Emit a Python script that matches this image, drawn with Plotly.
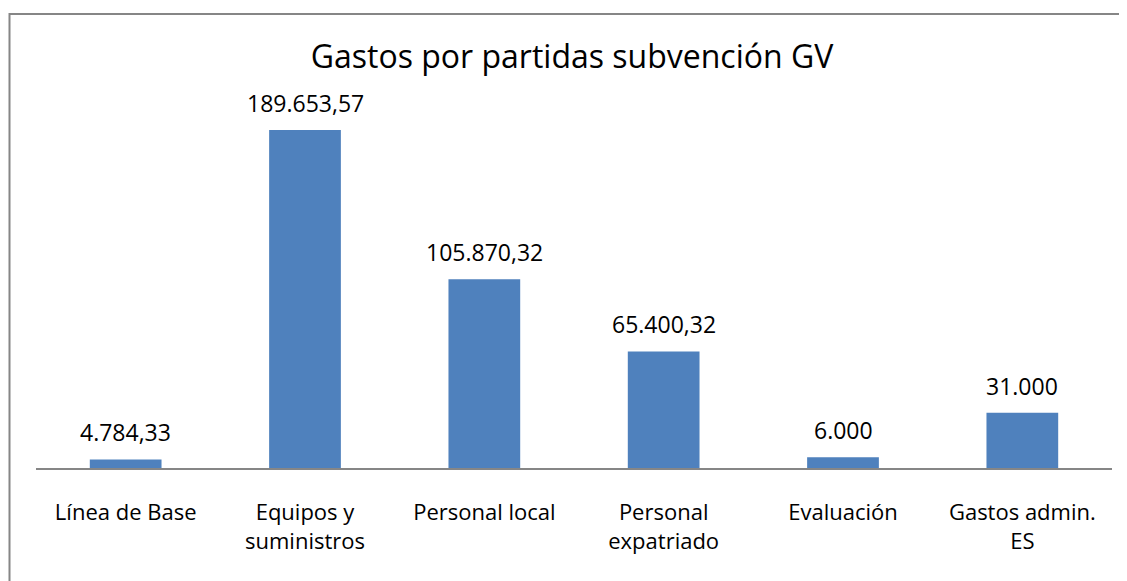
import plotly.graph_objects as go

categories = ["Línea de Base", "Equipos y<br>suministros", "Personal local",
              "Personal<br>expatriado", "Evaluación", "Gastos admin.<br>ES"]
values = [4784.33, 189653.57, 105870.32, 65400.32, 6000, 31000]
value_labels = ["4.784,33", "189.653,57", "105.870,32", "65.400,32", "6.000", "31.000"]

FONT = "Open Sans"
BAR = "#4F81BD"
GRID = "#868686"

# page body has an 8px margin; compensate
OFF = 8
FW, FH = 1127 - OFF, 581 - OFF

fig = go.Figure()
fig.add_trace(go.Bar(x=categories, y=values, marker=dict(color=BAR, line=dict(width=0)),
                     hoverinfo="skip"))

for c, v, t in zip(categories, values, value_labels):
    fig.add_annotation(x=c, y=v, text=t, showarrow=False, yanchor="bottom", yshift=9,
                       font=dict(family=FONT, size=23, color="#000000"))

# plot area in screenshot coords: x 36..1112, y 100..468
L, R, T, B = 36 - OFF, FW - (1112 - OFF), 100 - OFF, FH - (468 - OFF)
W, H = FW - L - R, FH - T - B
def px(x): return (x - OFF - L) / W
def py(y): return (FH - B - (y - OFF)) / H

fig.add_shape(type="rect", xref="paper", yref="paper",
              x0=px(9.5), x1=px(1145), y0=py(600), y1=py(14),
              line=dict(color=GRID, width=2), fillcolor="rgba(0,0,0,0)", layer="above")

fig.update_layout(
    width=FW, height=FH,
    margin=dict(l=L, r=R, t=T, b=B),
    paper_bgcolor="white", plot_bgcolor="white",
    bargap=0.6,
    showlegend=False,
    title=dict(text="Gastos por partidas subvención GV", x=(572 - OFF) / FW, xanchor="center",
               y=1 - (57 - OFF) / FH, yanchor="middle",
               font=dict(family=FONT, size=32, color="#000000")),
    xaxis=dict(showline=True, linecolor=GRID, linewidth=2, ticks="", showgrid=False,
               tickfont=dict(family=FONT, size=22, color="#000000"),
               ticklabelstandoff=24, fixedrange=True),
    yaxis=dict(visible=False, range=[0, 189653.57 * 368 / 338], showgrid=False,
               zeroline=False, fixedrange=True),
)

fig.write_html("out.html")
